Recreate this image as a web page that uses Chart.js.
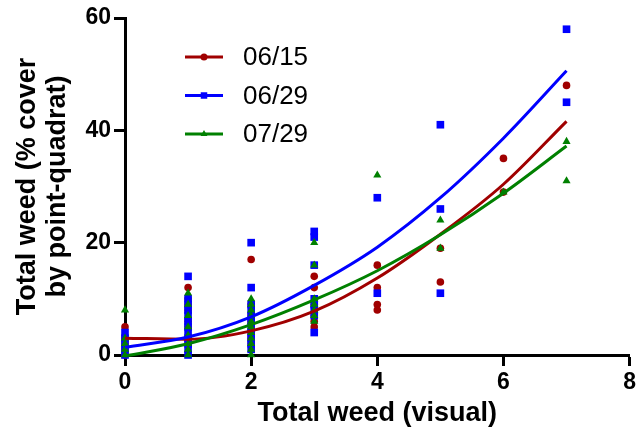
<!DOCTYPE html>
<html>
<head>
<meta charset="utf-8">
<script src="https://cdn.jsdelivr.net/npm/chart.js@4"></script>
<style>
  html, body { margin: 0; padding: 0; background: #fff; }
  #wrap { width: 639px; height: 435px; }
</style>
</head>
<body>
<div id="wrap"><canvas id="weedChart" width="639" height="435"></canvas></div>
<script>
var labels = ["06/15", "06/29", "07/29"];
var colors = ["#A00000", "#0000FF", "#008000"];
var markers = ["circle", "rect", "triangle"];

var x0615 = [0,0,0,0,0, 1,1,1,1,1,1,1,1, 2,2,2,2,2,2,2, 3,3,3,3,3,3, 4,4,4,4, 5,5, 6,6, 7];
var y0615 = [5,3,2,1,0, 12,10,9,8,6,5,3,2, 17,9,7,6,4,3,2, 14,12,9,7,6,5, 16,12,9,8, 19,13, 35,29, 48];

var x0629 = [0,0,0,0,0, 1,1,1,1,1,1,1,1,1,1,1,1, 2,2,2,2,2,2,2,2,2,2,2, 3,3,3,3,3,3,3,3, 4,4, 5,5,5, 7,7];
var y0629 = [4,3,2,1,0, 14,10,9,8,7,6,5,4,3,2,1,0, 20,12,9,8,7,6,5,4,3,2,1, 22,21,16,10,9,8,7,4, 28,11, 41,26,11, 58,45];

var x0729 = [0,0,0,0,0, 1,1,1,1,1,1,1,1, 2,2,2,2,2,2,2,2,2,2,2, 3,3,3,3,3,3,3, 4, 5,5, 6, 7,7];
var y0729 = [8,3,2,1,0, 11,9,7,5,3.5,2,1,0, 10,9,8,7,6,5,4,3,2,1,0, 20,16,10,9,8,7,6, 32, 24,19, 29, 38,31];

// fitted curves, read at each whole visual score
var fitX = [0, 1, 2, 3, 4, 5, 6, 7];
var fit0615 = [3.0, 2.8, 4.3, 7.8, 13.7, 21.5, 30.4, 41.6];
var fit0629 = [1.4, 3.2, 6.8, 12.4, 19.2, 28.0, 38.6, 50.6];
var fit0729 = [-0.2, 2.0, 5.4, 9.8, 15.0, 21.4, 28.8, 37.2];

var xTicks = [0, 2, 4, 6, 8];
var yTicks = [0, 20, 40, 60];

var fontFam = 'Arial, "Liberation Sans", sans-serif';

function pts(xs, ys) {
  return xs.map(function(x, i) { return {x: x, y: ys[i]}; });
}

var scatterX = [x0615, x0629, x0729];
var scatterY = [y0615, y0629, y0729];
var fits = [fit0615, fit0629, fit0729];
var radii = [3.8, 5.4, 4.7];

var datasets = [];
// curves on top of the points
for (var i = 0; i < 3; i++) {
  datasets.push({
    type: 'line',
    label: labels[i] + ' fit',
    data: pts(fitX, fits[i]),
    borderColor: colors[i],
    borderWidth: 3,
    pointRadius: 0,
    cubicInterpolationMode: 'monotone',
    fill: false,
    clip: false,
    order: 3 - i
  });
}
for (var i = 0; i < 3; i++) {
  datasets.push({
    type: 'scatter',
    label: labels[i],
    data: pts(scatterX[i], scatterY[i]),
    backgroundColor: colors[i],
    borderColor: colors[i],
    borderWidth: 0,
    pointStyle: markers[i],
    pointRadius: radii[i],
    clip: false,
    order: 10 - i
  });
}

function drawMarker(ctx, style, x, y, r) {
  if (style === 'circle') {
    ctx.arc(x, y, r, 0, Math.PI * 2);
  } else if (style === 'rect') {
    var s = r * Math.SQRT1_2;
    ctx.rect(x - s, y - s, 2 * s, 2 * s);
  } else {
    ctx.moveTo(x, y - r);
    ctx.lineTo(x + r * 0.866, y + r * 0.5);
    ctx.lineTo(x - r * 0.866, y + r * 0.5);
    ctx.closePath();
  }
}

// legend sits inside the plot, top left
var legendPlugin = {
  id: 'insideLegend',
  afterDraw: function(chart) {
    var ctx = chart.ctx;
    var rows = [57, 95.5, 134];
    var legR = [3.5, 4.6, 4.0];
    ctx.save();
    for (var i = 0; i < 3; i++) {
      var y = rows[i];
      ctx.strokeStyle = colors[i];
      ctx.lineWidth = 3;
      ctx.beginPath();
      ctx.moveTo(185, y);
      ctx.lineTo(223, y);
      ctx.stroke();
      ctx.fillStyle = colors[i];
      ctx.beginPath();
      drawMarker(ctx, markers[i], 204, y, legR[i]);
      ctx.fill();
      ctx.fillStyle = '#000';
      ctx.font = '26px ' + fontFam;
      ctx.textBaseline = 'middle';
      ctx.textAlign = 'left';
      ctx.fillText(labels[i], 243, y + 1);
    }
    ctx.restore();
  }
};

window.onload = function() {
  var ctx = document.getElementById('weedChart').getContext('2d');
  var chart = new Chart(ctx, {
    data: { datasets: datasets },
    plugins: [legendPlugin],
    options: {
      responsive: false,
      animation: false,
      layout: { padding: { top: 18, right: 9, bottom: 0, left: 0 } },
      plugins: {
        legend: { display: false },
        tooltip: { enabled: false }
      },
      scales: {
        x: {
          type: 'linear',
          min: 0,
          max: 8,
          afterFit: function(s) { s.height = 80; },
          afterBuildTicks: function(s) { s.ticks = xTicks.map(function(v) { return {value: v}; }); },
          border: { display: true, color: '#000', width: 3 },
          grid: { drawOnChartArea: false, drawTicks: true, tickLength: 11, tickWidth: 3, tickColor: '#000' },
          ticks: { color: '#000', padding: 3, font: { family: fontFam, size: 23, weight: 'bold' } },
          title: {
            display: true,
            text: 'Total weed (visual)',
            color: '#000',
            font: { family: fontFam, size: 27, weight: 'bold', lineHeight: 1.2 },
            padding: { top: 0, bottom: 5 }
          }
        },
        y: {
          type: 'linear',
          min: 0,
          max: 60,
          afterFit: function(s) { s.width = 125; },
          afterBuildTicks: function(s) { s.ticks = yTicks.map(function(v) { return {value: v}; }); },
          border: { display: true, color: '#000', width: 3 },
          grid: { drawOnChartArea: false, drawTicks: true, tickLength: 11, tickWidth: 3, tickColor: '#000' },
          ticks: { color: '#000', padding: 3, font: { family: fontFam, size: 23, weight: 'bold' } },
          title: {
            display: true,
            text: ['Total weed (% cover', 'by point-quadrat)'],
            color: '#000',
            font: { family: fontFam, size: 27, weight: 'bold', lineHeight: 1.1 },
            padding: { top: 13, bottom: 0 }
          }
        }
      }
    }
  });
};
</script>
</body>
</html>
